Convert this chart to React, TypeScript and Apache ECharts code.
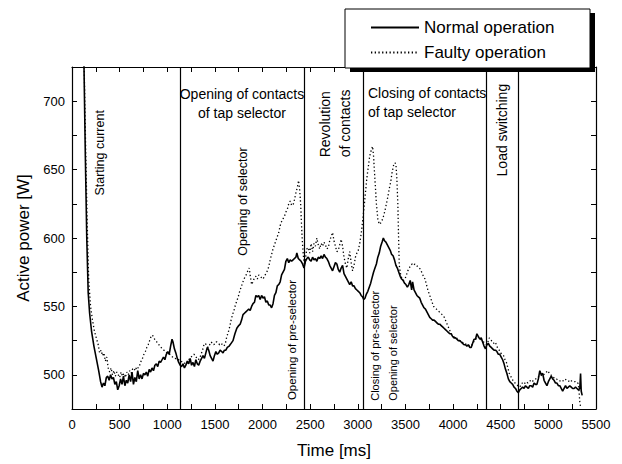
import React, { useEffect, useRef } from "react";
import * as echarts from "echarts";

const FONT = "'Liberation Sans', Arial, Helvetica, sans-serif";

const xTickLabels = [0, 500, 1000, 1500, 2000, 2500, 3000, 3500, 4000, 4500, 5000, 5500];
const yTickLabels = [500, 550, 600, 650, 700];

const seriesNames = ["Normal operation", "Faulty operation"];

// [time ms, power W]
const normalOperation: [number, number][] = [
  [110, 760], [126, 725], [140, 660], [155, 600], [170, 560], [185, 545], [205, 532], [230, 521],
  [255, 512], [280, 503], [300, 495], [315, 491], [330, 494], [345, 492], [360, 498], [375, 499],
  [390, 496], [405, 500], [420, 497], [435, 498], [450, 493], [465, 495], [480, 489], [495, 492],
  [510, 497], [525, 493], [540, 499], [555, 492], [570, 496], [585, 494], [600, 500], [615, 495],
  [630, 502], [645, 493], [660, 498], [675, 495], [690, 503], [705, 497], [720, 500], [735, 497],
  [750, 501], [765, 500], [780, 502], [795, 499], [810, 504], [825, 502], [840, 505], [855, 503],
  [870, 507], [885, 508], [900, 506], [915, 510], [930, 509], [945, 511], [960, 513], [975, 511],
  [990, 515], [1005, 517], [1020, 515], [1035, 521], [1050, 526], [1060, 524], [1075, 519], [1090, 516],
  [1105, 512], [1120, 509], [1135, 507], [1150, 506], [1165, 508], [1180, 505], [1195, 507], [1210, 510],
  [1225, 508], [1240, 512], [1255, 507], [1270, 509], [1285, 506], [1300, 511], [1315, 508], [1330, 507],
  [1345, 510], [1360, 512], [1375, 514], [1390, 512], [1405, 516], [1420, 520], [1435, 518], [1450, 514],
  [1465, 512], [1480, 510], [1495, 514], [1510, 517], [1525, 515], [1540, 516], [1555, 518], [1570, 517],
  [1585, 516], [1600, 518], [1615, 518], [1630, 520], [1650, 521], [1670, 523], [1690, 525], [1710, 530],
  [1730, 534], [1750, 536], [1765, 537], [1780, 540], [1795, 544], [1810, 545], [1825, 546], [1840, 547],
  [1855, 548], [1870, 547], [1885, 550], [1900, 552], [1915, 553], [1930, 558], [1945, 557], [1960, 558],
  [1975, 555], [1990, 558], [2005, 556], [2020, 557], [2035, 553], [2050, 554], [2065, 551], [2080, 551],
  [2095, 549], [2110, 552], [2125, 558], [2140, 560], [2155, 565], [2170, 566], [2185, 568], [2200, 573],
  [2215, 575], [2230, 577], [2245, 583], [2260, 585], [2275, 582], [2290, 584], [2305, 583], [2320, 584],
  [2335, 585], [2350, 586], [2360, 589], [2375, 585], [2390, 584], [2405, 583], [2420, 581], [2435, 578],
  [2450, 583], [2465, 585], [2480, 586], [2495, 584], [2510, 583], [2525, 586], [2540, 584], [2555, 585],
  [2570, 583], [2585, 586], [2600, 585], [2615, 587], [2630, 585], [2645, 588], [2660, 586], [2675, 585],
  [2690, 583], [2705, 580], [2720, 578], [2735, 576], [2750, 579], [2765, 582], [2780, 581], [2795, 577],
  [2810, 575], [2825, 578], [2840, 580], [2855, 574], [2870, 572], [2885, 570], [2900, 568], [2915, 566],
  [2930, 568], [2945, 565], [2960, 565], [2975, 563], [2990, 562], [3005, 561], [3020, 560], [3035, 558],
  [3050, 557], [3062, 555], [3075, 556], [3090, 559], [3105, 561], [3120, 564], [3135, 567], [3150, 571],
  [3165, 575], [3180, 578], [3195, 581], [3210, 586], [3225, 589], [3240, 594], [3255, 597], [3268, 600],
  [3280, 598], [3295, 597], [3310, 595], [3325, 593], [3340, 591], [3355, 588], [3370, 587], [3385, 584],
  [3400, 580], [3415, 578], [3430, 575], [3445, 572], [3460, 570], [3475, 569], [3490, 567], [3505, 566],
  [3520, 564], [3535, 566], [3550, 569], [3565, 562], [3575, 568], [3590, 562], [3605, 560], [3620, 558],
  [3635, 557], [3650, 556], [3665, 553], [3680, 551], [3695, 549], [3710, 548], [3725, 546], [3740, 544],
  [3755, 542], [3770, 541], [3785, 540], [3800, 540], [3815, 539], [3830, 538], [3845, 537], [3860, 537],
  [3875, 536], [3890, 535], [3905, 534], [3920, 533], [3935, 532], [3950, 531], [3965, 530], [3980, 530],
  [3995, 528], [4010, 527], [4025, 527], [4040, 526], [4055, 525], [4070, 525], [4085, 524], [4100, 523],
  [4115, 522], [4130, 522], [4145, 521], [4160, 522], [4175, 520], [4190, 520], [4205, 523], [4220, 526],
  [4235, 526], [4250, 530], [4265, 528], [4280, 526], [4295, 527], [4310, 524], [4325, 521], [4340, 519],
  [4355, 522], [4370, 523], [4385, 521], [4400, 520], [4415, 519], [4430, 518], [4445, 518], [4460, 517],
  [4475, 515], [4490, 515], [4505, 513], [4520, 511], [4535, 508], [4550, 504], [4565, 501], [4580, 497],
  [4595, 495], [4610, 494], [4625, 493], [4640, 491], [4655, 490], [4670, 488], [4685, 487], [4700, 489],
  [4715, 490], [4730, 491], [4745, 490], [4760, 492], [4775, 491], [4790, 490], [4805, 492], [4820, 492],
  [4835, 491], [4850, 494], [4865, 493], [4880, 493], [4895, 497], [4910, 503], [4925, 500], [4940, 501],
  [4955, 496], [4970, 494], [4985, 492], [5000, 495], [5015, 497], [5030, 499], [5045, 497], [5060, 496],
  [5075, 494], [5090, 494], [5105, 492], [5120, 492], [5135, 490], [5150, 488], [5165, 490], [5180, 492],
  [5195, 490], [5210, 491], [5225, 492], [5240, 491], [5255, 490], [5270, 490], [5285, 491], [5300, 490],
  [5315, 489], [5330, 490], [5338, 501], [5345, 488], [5355, 485],
];

const faultyOperation: [number, number][] = [
  [110, 760], [128, 725], [145, 660], [160, 610], [175, 570], [195, 550], [215, 540], [235, 532],
  [255, 527], [275, 522], [290, 516], [305, 518], [320, 514], [335, 516], [350, 510], [365, 513],
  [380, 505], [395, 502], [410, 505], [425, 500], [440, 503], [455, 499], [470, 502], [485, 500],
  [500, 498], [515, 502], [530, 499], [545, 501], [560, 498], [575, 502], [590, 500], [605, 503],
  [620, 501], [635, 504], [650, 505], [665, 503], [680, 506], [695, 505], [710, 507], [725, 510],
  [740, 512], [755, 515], [770, 517], [785, 520], [800, 522], [815, 525], [830, 528], [845, 529],
  [860, 527], [875, 525], [890, 524], [905, 523], [920, 521], [935, 520], [950, 519], [965, 518],
  [980, 517], [995, 516], [1010, 515], [1025, 515], [1040, 514], [1055, 513], [1070, 512], [1085, 512],
  [1100, 511], [1115, 511], [1130, 511], [1145, 510], [1160, 509], [1175, 509], [1190, 508], [1205, 508],
  [1220, 510], [1235, 512], [1250, 513], [1265, 514], [1280, 515], [1295, 514], [1310, 512], [1325, 511],
  [1340, 512], [1355, 515], [1370, 518], [1385, 522], [1400, 523], [1415, 521], [1430, 520], [1445, 522],
  [1460, 524], [1475, 523], [1490, 522], [1505, 524], [1520, 524], [1535, 523], [1550, 522], [1565, 523],
  [1580, 522], [1595, 521], [1610, 523], [1625, 528], [1640, 531], [1655, 535], [1670, 540], [1685, 544],
  [1700, 547], [1715, 551], [1730, 554], [1745, 557], [1760, 561], [1775, 564], [1790, 567], [1805, 570],
  [1820, 572], [1835, 574], [1850, 577], [1860, 578], [1872, 572], [1885, 566], [1900, 568], [1915, 571],
  [1930, 572], [1945, 570], [1960, 573], [1975, 572], [1990, 571], [2005, 570], [2020, 572], [2035, 574],
  [2050, 576], [2065, 579], [2080, 584], [2095, 588], [2110, 592], [2125, 595], [2140, 598], [2155, 601],
  [2170, 604], [2185, 609], [2200, 612], [2215, 614], [2230, 616], [2245, 619], [2260, 621], [2275, 625],
  [2290, 627], [2305, 624], [2320, 624], [2335, 628], [2350, 633], [2365, 637], [2378, 642], [2390, 635],
  [2400, 625], [2410, 608], [2420, 595], [2430, 586], [2440, 580], [2450, 585], [2465, 592], [2480, 593],
  [2495, 589], [2510, 596], [2525, 590], [2540, 596], [2555, 594], [2570, 600], [2585, 595], [2600, 592],
  [2615, 596], [2630, 594], [2645, 597], [2660, 595], [2675, 592], [2690, 593], [2705, 598], [2720, 601],
  [2735, 604], [2750, 598], [2765, 594], [2780, 590], [2795, 591], [2810, 595], [2825, 599], [2840, 594],
  [2855, 586], [2870, 581], [2885, 578], [2900, 585], [2915, 590], [2930, 582], [2945, 576], [2960, 580],
  [2975, 586], [2990, 589], [3005, 591], [3020, 596], [3035, 603], [3050, 612], [3065, 622], [3080, 633],
  [3095, 644], [3110, 652], [3125, 660], [3140, 664], [3155, 667], [3165, 660], [3175, 648], [3185, 637],
  [3195, 625], [3210, 614], [3225, 610], [3240, 611], [3255, 613], [3270, 616], [3285, 620], [3300, 625],
  [3315, 630], [3330, 636], [3345, 641], [3360, 648], [3375, 653], [3390, 655], [3400, 654], [3410, 643],
  [3420, 625], [3428, 600], [3435, 580], [3450, 573], [3465, 570], [3480, 569], [3495, 570], [3510, 573],
  [3525, 576], [3540, 578], [3555, 580], [3570, 581], [3585, 580], [3600, 581], [3615, 580], [3630, 579],
  [3645, 578], [3660, 577], [3675, 574], [3690, 572], [3705, 570], [3720, 566], [3735, 562], [3750, 559],
  [3765, 556], [3780, 553], [3795, 550], [3810, 549], [3825, 548], [3840, 547], [3855, 546], [3870, 545],
  [3885, 544], [3900, 543], [3915, 541], [3930, 538], [3945, 536], [3960, 533], [3975, 531], [3990, 529],
  [4005, 528], [4020, 527], [4035, 527], [4050, 526], [4065, 525], [4080, 525], [4095, 524], [4110, 523],
  [4125, 523], [4140, 522], [4155, 522], [4170, 521], [4185, 521], [4200, 522], [4215, 524], [4230, 525],
  [4245, 527], [4260, 528], [4275, 527], [4290, 526], [4305, 525], [4320, 524], [4335, 523], [4350, 522],
  [4365, 524], [4380, 527], [4395, 526], [4410, 524], [4425, 523], [4440, 524], [4455, 522], [4470, 519],
  [4485, 518], [4500, 516], [4515, 515], [4530, 514], [4545, 511], [4560, 509], [4575, 505], [4590, 501],
  [4605, 499], [4620, 497], [4635, 495], [4650, 494], [4665, 493], [4680, 492], [4695, 491], [4710, 492],
  [4725, 494], [4740, 493], [4755, 494], [4770, 495], [4785, 494], [4800, 495], [4815, 496], [4830, 495],
  [4845, 496], [4860, 497], [4875, 497], [4890, 498], [4905, 499], [4920, 500], [4935, 499], [4950, 500],
  [4965, 501], [4980, 502], [4995, 503], [5010, 501], [5025, 500], [5040, 499], [5055, 498], [5070, 497],
  [5085, 497], [5100, 496], [5115, 496], [5130, 495], [5145, 495], [5160, 496], [5175, 497], [5190, 496],
  [5205, 496], [5220, 495], [5235, 496], [5250, 495], [5265, 495], [5280, 495], [5295, 494], [5310, 494],
  [5320, 490], [5330, 480], [5340, 476],
];

// phase boundaries (ms)
const phaseBoundaries = [1133, 2436, 3058, 4351, 4684];

// annotations
const annotationTexts = [
  "Starting current",
  "Opening of contacts\nof tap selector",
  "Opening of selector",
  "Opening of pre-selector",
  "Revolution\nof contacts",
  "Closing of contacts\nof tap selector",
  "Closing of pre-selector",
  "Opening of selector",
  "Load switching",
];
const annotationTimes = [294, 1784, 1795, 2309, 2761, 3107, 3180, 3369, 4513];
const annotationPowers = [631, 712.5, 587, 481.5, 659, 713, 481, 481, 645];
const annotationRotated = [true, false, true, true, true, false, true, true, true];
const annotationAlign = ["left", "center", "left", "left", "left", "left", "left", "left", "left"];
const annotationSizes = [12.5, 14, 12.5, 11.5, 14, 14, 11, 11, 14];

export default function App() {
  const ref = useRef<HTMLDivElement>(null);

  useEffect(() => {
    document.body.style.margin = "0";
    if (!ref.current) return;
    const chart = echarts.init(ref.current, undefined, { renderer: "svg" });

    const axisCommon = {
      type: "value" as const,
      axisLine: { show: true, onZero: false, lineStyle: { color: "#000", width: 1.2 } },
      axisTick: { show: true, inside: true, length: 5, lineStyle: { color: "#000", width: 1 } },
      splitLine: { show: false },
    };

    chart.setOption({
      animation: false,
      backgroundColor: "#fff",
      grid: { left: 72, right: 26, top: 67, bottom: 53, containLabel: false },
      xAxis: [
        {
          ...axisCommon,
          min: 0,
          max: 5500,
          interval: 250,
          position: "bottom",
          name: "Time [ms]",
          nameLocation: "middle",
          nameGap: 33,
          nameTextStyle: { fontFamily: FONT, fontSize: 17, color: "#000" },
          axisLabel: {
            fontFamily: FONT,
            fontSize: 13,
            color: "#000",
            margin: 9,
            formatter: (v: number) => (xTickLabels.includes(v) ? String(v) : ""),
          },
        },
        {
          ...axisCommon,
          min: 0,
          max: 5500,
          interval: 250,
          position: "top",
          axisLabel: { show: false },
        },
      ],
      yAxis: [
        {
          ...axisCommon,
          min: 475,
          max: 725,
          interval: 25,
          position: "left",
          name: "Active power [W]",
          nameLocation: "middle",
          nameGap: 38,
          nameRotate: 90,
          nameTextStyle: { fontFamily: FONT, fontSize: 17, color: "#000" },
          axisLabel: {
            fontFamily: FONT,
            fontSize: 13,
            color: "#000",
            margin: 7,
            formatter: (v: number) => (yTickLabels.includes(v) ? String(v) : ""),
          },
        },
        {
          ...axisCommon,
          min: 475,
          max: 725,
          interval: 25,
          position: "right",
          axisLabel: { show: false },
        },
      ],
      legend: {
        orient: "vertical",
        left: 370,
        top: 19,
        itemWidth: 48,
        itemHeight: 12,
        itemGap: 8,
        padding: 0,
        z: 20,
        data: seriesNames,
        itemStyle: { opacity: 0 },
        textStyle: { fontFamily: FONT, fontSize: 17, color: "#000" },
      },
      series: [
        {
          name: seriesNames[0],
          type: "line",
          data: normalOperation,
          showSymbol: false,
          symbol: "none",
          clip: true,
          itemStyle: { color: "#000" },
          lineStyle: { color: "#000", width: 1.6 },
          markLine: {
            silent: true,
            symbol: "none",
            label: { show: false },
            lineStyle: { color: "#000", width: 1.2, type: "solid" },
            data: phaseBoundaries.map((t) => ({ xAxis: t })),
          },
          z: 3,
        },
        {
          name: seriesNames[1],
          type: "line",
          data: faultyOperation,
          showSymbol: false,
          symbol: "none",
          clip: true,
          itemStyle: { color: "#000" },
          lineStyle: { color: "#000", width: 1.3, type: [1.3, 2.4] },
          z: 2,
        },
      ],
    });

    const graphics: any[] = [
      {
        type: "rect",
        shape: { x: 350, y: 13, width: 245, height: 59 },
        style: { fill: "#000" },
        z: 10,
      },
      {
        type: "rect",
        shape: { x: 345, y: 9, width: 245, height: 59 },
        style: { fill: "#fff", stroke: "#000", lineWidth: 1 },
        z: 11,
      },
    ];

    annotationTexts.forEach((txt, i) => {
      const p = chart.convertToPixel({ xAxisIndex: 0, yAxisIndex: 0 }, [
        annotationTimes[i],
        annotationPowers[i],
      ]) as number[];
      const rotated = annotationRotated[i];
      graphics.push({
        type: "text",
        x: p[0],
        y: p[1],
        rotation: rotated ? Math.PI / 2 : 0,
        z: 5,
        style: {
          text: txt,
          fontFamily: FONT,
          fontSize: annotationSizes[i],
          fill: "#000",
          align: annotationAlign[i],
          verticalAlign: rotated ? "middle" : "top",
          lineHeight: annotationSizes[i] * 1.38,
        },
      });
    });

    chart.setOption({ graphic: graphics });

    return () => chart.dispose();
  }, []);

  return <div ref={ref} style={{ width: 622, height: 464 }} />;
}
